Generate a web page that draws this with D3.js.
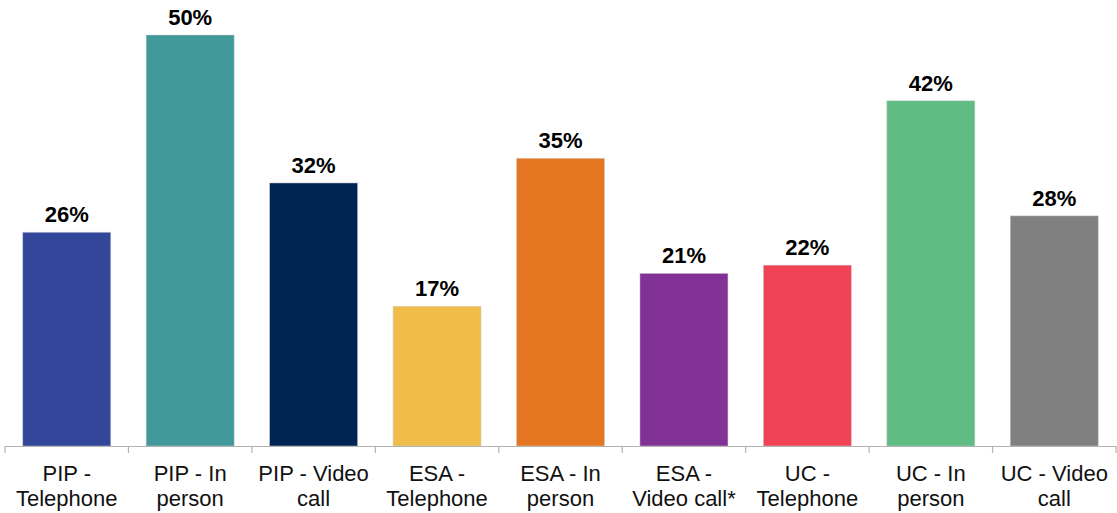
<!DOCTYPE html>
<html>
<head>
<meta charset="utf-8">
<script src="https://cdn.jsdelivr.net/npm/d3@7"></script>
<style>
  html, body { margin: 0; padding: 0; background: #ffffff; }
  svg { display: block; font-family: "Liberation Sans", Arial, sans-serif; }
</style>
</head>
<body>
<svg id="chart" width="1117" height="513"></svg>
<script>
// Share of claimants by benefit and assessment channel (%)
const categories = [
  "PIP - Telephone", "PIP - In person", "PIP - Video call",
  "ESA - Telephone", "ESA - In person", "ESA - Video call*",
  "UC - Telephone", "UC - In person", "UC - Video call"
];
const values = [26, 50, 32, 17, 35, 21, 22, 42, 28];
const colors = [
  "#32469a", "#429999", "#002554",
  "#f0bd4b", "#e67722", "#823296",
  "#f04355", "#5fbc82", "#808080"
];

const svg = d3.select("#chart");
const baseY = 446;

const x = d3.scaleBand()
  .domain(categories)
  .range([5, 1116])
  .paddingInner(0.287)
  .paddingOuter(0.1435);

const y = d3.scaleLinear()
  .domain([0, 50])
  .range([baseY, 35]);

const data = categories.map((c, i) => ({ cat: c, value: values[i], color: colors[i] }));

// Bars
svg.append("g")
  .selectAll("rect")
  .data(data)
  .join("rect")
  .attr("x", d => x(d.cat))
  .attr("y", d => y(d.value))
  .attr("width", x.bandwidth())
  .attr("height", d => y(0) - y(d.value))
  .attr("fill", d => d.color)
  .attr("stroke", "#d0d0d0")
  .attr("stroke-opacity", 0.6)
  .attr("stroke-width", 0.8);

// Value labels
svg.append("g")
  .selectAll("text")
  .data(data)
  .join("text")
  .attr("x", d => x(d.cat) + x.bandwidth() / 2)
  .attr("y", d => y(d.value) - 10)
  .attr("text-anchor", "middle")
  .attr("font-size", 22)
  .attr("font-weight", "bold")
  .attr("fill", "#000")
  .text(d => d.value + "%");

// Category axis with tick marks at band boundaries
const axisG = svg.append("g");
axisG.append("line")
  .attr("x1", x.range()[0]).attr("x2", x.range()[1])
  .attr("y1", baseY + 0.5).attr("y2", baseY + 0.5)
  .attr("stroke", "#b3b3b3").attr("stroke-width", 1.2);

const step = x.step();
const bounds = categories.map(c => x(c) - x.paddingInner() * step / 2);
bounds.push(x.range()[1]);
axisG.selectAll("line.tick")
  .data(bounds)
  .join("line")
  .attr("class", "tick")
  .attr("x1", d => d).attr("x2", d => d)
  .attr("y1", baseY).attr("y2", baseY + 7)
  .attr("stroke", "#b3b3b3").attr("stroke-width", 1.2);

// Wrapped category labels
const maxW = 115;
const labels = axisG.selectAll("text.cat")
  .data(categories)
  .join("text")
  .attr("class", "cat")
  .attr("text-anchor", "middle")
  .attr("font-size", 22)
  .attr("fill", "#111");

labels.each(function(c) {
  const t = d3.select(this);
  const cx = x(c) + x.bandwidth() / 2;
  const words = c.split(" ");
  const lines = [];
  let line = [];
  const probe = t.append("tspan");
  words.forEach(w => {
    const test = line.concat(w).join(" ");
    probe.text(test);
    if (probe.node().getComputedTextLength() > maxW && line.length) {
      lines.push(line.join(" "));
      line = [w];
    } else {
      line.push(w);
    }
  });
  lines.push(line.join(" "));
  probe.remove();
  lines.forEach((l, i) => {
    t.append("tspan")
      .attr("x", cx)
      .attr("y", 481 + i * 25)
      .text(l);
  });
});
</script>
</body>
</html>
